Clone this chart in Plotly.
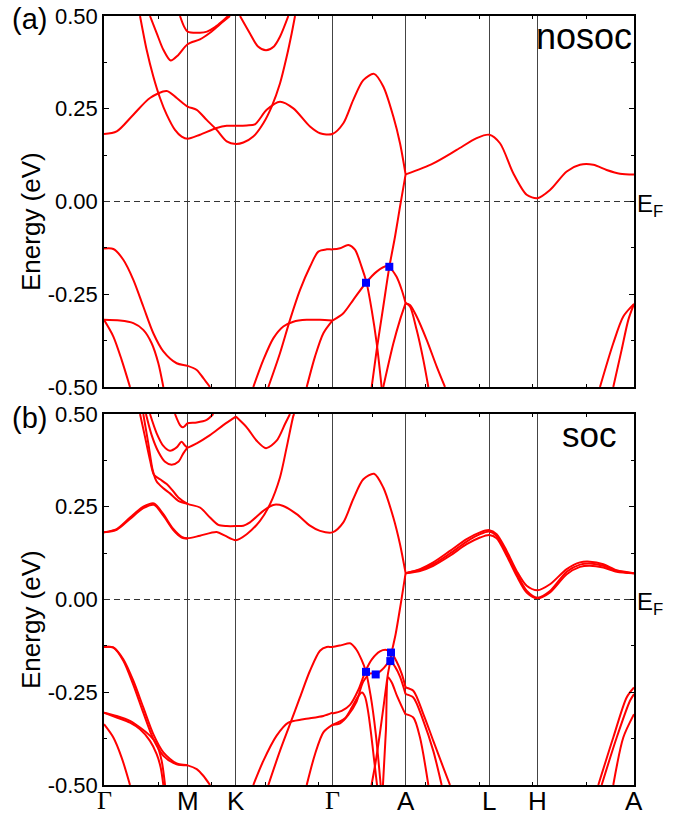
import plotly.graph_objects as go

# ---------------- high-symmetry path ----------------
kpt_pos = [0.0, 1.0, 1.577, 2.732, 3.608, 4.608, 5.185, 6.340]
kpt_lab = ['Γ', 'M', 'K', 'Γ', 'A', 'L', 'H', 'A']
kminor = [0.65, 1.29, 1.93, 2.57, 3.21, 3.85, 4.49, 5.13, 5.77]
e_ticks = [-0.5, -0.25, 0.0, 0.25, 0.5]
e_text = ['-0.50', '-0.25', '0.00', '0.25', '0.50']
e_minor = [-0.375, -0.125, 0.125, 0.375]

# ---------------- (a) nosoc bands: (k, E in eV) ----------------
ns_a = [(0, 0.182), (0.152, 0.189), (0.351, 0.234), (0.550, 0.279), (0.750, 0.298), (0.870, 0.279),
        (1.0, 0.256), (1.109, 0.247), (1.228, 0.220), (1.348, 0.193), (1.468, 0.162), (1.577, 0.155),
        (1.667, 0.159), (1.786, 0.175), (1.906, 0.211), (2.006, 0.256), (2.105, 0.318), (2.185, 0.39),
        (2.245, 0.453), (2.285, 0.5)]
ns_b = [(0.431, 0.5), (0.510, 0.409), (0.590, 0.337), (0.670, 0.279), (0.750, 0.234), (0.849, 0.193),
        (0.929, 0.175), (1.0, 0.169), (1.148, 0.18), (1.348, 0.198), (1.468, 0.204), (1.577, 0.204),
        (1.707, 0.205), (1.806, 0.208), (1.946, 0.247), (2.105, 0.269), (2.265, 0.251), (2.464, 0.202),
        (2.584, 0.184), (2.732, 0.182), (2.863, 0.211), (2.982, 0.274), (3.102, 0.327), (3.230, 0.344),
        (3.341, 0.31), (3.461, 0.229), (3.541, 0.157), (3.608, 0.073)]
ns_c = [(3.608, 0.073), (3.939, 0.103), (4.219, 0.139), (4.458, 0.171), (4.608, 0.18), (4.737, 0.157),
        (4.896, 0.076), (5.056, 0.018), (5.185, 0.009), (5.335, 0.031), (5.535, 0.081), (5.694, 0.099),
        (5.853, 0.099), (6.013, 0.085), (6.172, 0.075), (6.34, 0.073)]
ns_d = [(0, -0.127), (0.112, -0.128), (0.231, -0.157), (0.351, -0.211), (0.470, -0.283), (0.590, -0.355),
        (0.710, -0.404), (0.869, -0.436), (1.0, -0.443), (1.109, -0.454), (1.188, -0.476), (1.268, -0.5)]
ns_e = [(0, -0.319), (0.191, -0.321), (0.351, -0.328), (0.470, -0.346), (0.570, -0.382), (0.650, -0.436),
        (0.710, -0.5)]
ns_f = [(0, -0.319), (0.112, -0.364), (0.211, -0.427), (0.311, -0.5)]
ns_g = [(0.550, 0.5), (0.630, 0.454), (0.710, 0.409), (0.797, 0.380), (0.889, 0.395), (1.0, 0.424),
        (1.148, 0.437), (1.268, 0.455), (1.388, 0.478), (1.507, 0.5)]
ns_h = [(0.909, 0.5), (0.957, 0.472), (1.0, 0.458), (1.148, 0.455), (1.232, 0.458), (1.328, 0.47),
        (1.411, 0.485), (1.483, 0.5)]
ns_i = [(1.627, 0.5), (1.746, 0.453), (1.842, 0.418), (1.938, 0.408), (2.033, 0.418), (2.105, 0.444),
        (2.205, 0.5)]
ns_j = [(1.786, -0.5), (1.906, -0.427), (2.025, -0.369), (2.145, -0.337), (2.265, -0.324), (2.425, -0.319),
        (2.584, -0.319), (2.732, -0.321)]
ns_k = [(1.966, -0.5), (2.105, -0.409), (2.225, -0.319), (2.344, -0.239), (2.464, -0.176), (2.564, -0.135),
        (2.664, -0.129), (2.732, -0.129), (2.823, -0.126), (2.923, -0.117), (3.002, -0.13), (3.082, -0.176),
        (3.142, -0.22), (3.202, -0.292), (3.262, -0.382), (3.321, -0.5)]
ns_l = [(2.425, -0.5), (2.524, -0.418), (2.624, -0.355), (2.732, -0.321)]
ns_m = [(2.732, -0.321), (2.863, -0.301), (2.982, -0.265), (3.134, -0.219), (3.262, -0.189), (3.381, -0.174),
        (3.413, -0.177), (3.5, -0.203), (3.561, -0.238), (3.608, -0.274)]
ns_n = [(3.608, 0.073), (3.541, -0.014), (3.481, -0.095), (3.413, -0.177), (3.341, -0.283), (3.262, -0.4),
        (3.202, -0.5)]
ns_o = [(3.341, -0.5), (3.461, -0.383), (3.541, -0.319), (3.608, -0.274)]
ns_p = [(3.608, -0.274), (3.660, -0.283), (3.740, -0.346), (3.820, -0.427), (3.880, -0.5)]
ns_q = [(3.608, -0.274), (3.660, -0.279), (3.740, -0.31), (3.860, -0.373), (3.980, -0.445), (4.079, -0.5)]
ns_r = [(5.933, -0.5), (6.092, -0.382), (6.212, -0.31), (6.34, -0.276)]
ns_s = [(6.092, -0.5), (6.192, -0.4), (6.272, -0.319), (6.34, -0.276)]
ns_sq_k = [3.134, 3.413]
ns_sq_e = [-0.219, -0.176]

# ---------------- (b) soc bands ----------------
so_a = [(0, 0.181), (0.152, 0.190), (0.311, 0.221), (0.470, 0.25), (0.598, 0.259), (0.710, 0.230),
        (0.829, 0.19), (0.929, 0.169), (1.0, 0.165), (1.148, 0.172), (1.348, 0.182), (1.447, 0.172),
        (1.577, 0.16), (1.707, 0.176), (1.866, 0.212), (1.986, 0.257), (2.105, 0.329), (2.185, 0.41),
        (2.265, 0.495), (2.275, 0.5)]
so_a2 = [(0, 0.181), (0.152, 0.188), (0.311, 0.217), (0.470, 0.246), (0.598, 0.255), (0.710, 0.226),
         (0.829, 0.187), (0.929, 0.167), (1.0, 0.164)]
so_c1 = [(0.431, 0.5), (0.490, 0.439), (0.550, 0.376), (0.598, 0.336), (0.670, 0.324), (0.750, 0.311),
         (0.809, 0.297), (0.889, 0.275), (1.0, 0.258), (1.148, 0.248), (1.268, 0.221), (1.368, 0.201),
         (1.468, 0.198), (1.577, 0.198), (1.667, 0.199), (1.746, 0.208), (1.906, 0.239), (2.025, 0.255),
         (2.145, 0.252), (2.305, 0.23), (2.464, 0.199), (2.584, 0.185), (2.732, 0.181), (2.863, 0.208),
         (2.982, 0.271), (3.102, 0.324), (3.23, 0.339), (3.341, 0.302), (3.461, 0.221), (3.541, 0.149),
         (3.608, 0.071)]
so_c2 = [(0.470, 0.5), (0.530, 0.421), (0.582, 0.349), (0.630, 0.318), (0.710, 0.3), (0.789, 0.286),
         (0.889, 0.266), (1.0, 0.258)]
so_d = [(0.502, 0.5), (0.570, 0.443), (0.650, 0.398), (0.730, 0.371), (0.809, 0.363), (0.889, 0.371),
        (0.949, 0.394), (1.0, 0.41)]
so_e = [(0.550, 0.5), (0.630, 0.448), (0.710, 0.414), (0.789, 0.401), (0.869, 0.41), (0.929, 0.425),
        (0.969, 0.415), (1.0, 0.41), (1.109, 0.421), (1.268, 0.443), (1.427, 0.47), (1.577, 0.493)]
so_f = [(1.577, 0.493), (1.707, 0.464), (1.826, 0.428), (1.938, 0.408), (2.065, 0.428), (2.165, 0.473),
        (2.225, 0.5)]
so_g = [(0.849, 0.5), (0.909, 0.47), (0.941, 0.464), (0.969, 0.468), (1.0, 0.475), (1.109, 0.477),
        (1.228, 0.484), (1.308, 0.5)]
so_h1 = [(0, -0.128), (0.112, -0.129), (0.231, -0.161), (0.351, -0.219), (0.470, -0.291), (0.590, -0.363),
         (0.710, -0.412), (0.869, -0.442), (1.0, -0.447), (1.109, -0.457), (1.188, -0.475), (1.268, -0.5)]
so_h2 = [(0, -0.128), (0.112, -0.130), (0.231, -0.165), (0.351, -0.230), (0.470, -0.305), (0.590, -0.376),
         (0.710, -0.421), (0.869, -0.444), (1.0, -0.447)]
so_i1 = [(0, -0.305), (0.152, -0.314), (0.311, -0.327), (0.431, -0.345), (0.550, -0.367), (0.630, -0.39),
         (0.690, -0.435), (0.730, -0.5)]
so_i2 = [(0, -0.305), (0.152, -0.318), (0.311, -0.332), (0.431, -0.35), (0.550, -0.381), (0.630, -0.417),
         (0.678, -0.453), (0.710, -0.5)]
so_j = [(0, -0.336), (0.112, -0.372), (0.211, -0.426), (0.311, -0.5)]
so_k = [(1.786, -0.5), (1.906, -0.435), (2.065, -0.367), (2.205, -0.332), (2.384, -0.323), (2.624, -0.314),
        (2.732, -0.305)]
so_l = [(1.966, -0.5), (2.105, -0.408), (2.225, -0.336), (2.344, -0.264), (2.464, -0.192), (2.584, -0.138),
        (2.664, -0.128), (2.732, -0.128), (2.843, -0.123), (2.943, -0.118), (3.022, -0.136), (3.082, -0.163),
        (3.130, -0.192), (3.19, -0.26), (3.25, -0.36), (3.31, -0.5)]
so_m = [(2.425, -0.5), (2.524, -0.417), (2.624, -0.358), (2.732, -0.338)]
so_bg2 = [(2.732, -0.338), (2.883, -0.32), (2.967, -0.29), (3.038, -0.262), (3.086, -0.251), (3.122, -0.262),
          (3.158, -0.30), (3.194, -0.36), (3.230, -0.43), (3.266, -0.5)]
so_bg3 = [(2.732, -0.307), (2.843, -0.3), (2.943, -0.284), (3.042, -0.244), (3.130, -0.192), (3.202, -0.162),
          (3.301, -0.140), (3.381, -0.136), (3.433, -0.143), (3.5, -0.167), (3.561, -0.2), (3.608, -0.237)]
so_bg4 = [(2.732, -0.338), (2.823, -0.334), (2.923, -0.311), (3.022, -0.275), (3.10, -0.222), (3.19, -0.199),
          (3.250, -0.202), (3.341, -0.186), (3.425, -0.166), (3.481, -0.181), (3.541, -0.208), (3.608, -0.255)]
so_n = [(3.608, 0.071), (3.549, -0.013), (3.489, -0.093), (3.441, -0.143), (3.425, -0.166), (3.397, -0.2),
        (3.349, -0.28), (3.301, -0.36), (3.248, -0.44), (3.2, -0.5)]
so_o = [(3.337, -0.5), (3.373, -0.35), (3.401, -0.21), (3.445, -0.225), (3.505, -0.26), (3.565, -0.29),
        (3.608, -0.31)]
so_p = [(3.608, -0.237), (3.7, -0.246), (3.820, -0.309), (3.939, -0.381), (4.059, -0.453), (4.139, -0.5)]
so_q = [(3.608, -0.255), (3.7, -0.264), (3.820, -0.327), (3.939, -0.408), (4.039, -0.5)]
so_r = [(3.608, -0.309), (3.7, -0.318), (3.780, -0.372), (3.88, -0.5)]
so_s = [(5.913, -0.5), (6.092, -0.372), (6.252, -0.264), (6.34, -0.237)]
so_t = [(5.953, -0.5), (6.133, -0.372), (6.292, -0.273), (6.34, -0.255)]
so_u = [(6.092, -0.5), (6.212, -0.372), (6.34, -0.309)]
so_v1 = [(3.608, 0.071), (3.780, 0.082), (3.939, 0.1), (4.139, 0.131), (4.338, 0.163), (4.498, 0.181),
         (4.608, 0.187), (4.697, 0.176), (4.817, 0.131), (4.936, 0.077), (5.056, 0.037), (5.185, 0.025),
         (5.335, 0.041), (5.535, 0.082), (5.694, 0.1), (5.813, 0.102), (5.973, 0.095), (6.133, 0.079),
         (6.34, 0.071)]
so_v2 = [(3.608, 0.071), (3.780, 0.077), (3.939, 0.091), (4.139, 0.118), (4.338, 0.149), (4.498, 0.167),
         (4.608, 0.174), (4.697, 0.165), (4.817, 0.118), (4.936, 0.064), (5.056, 0.019), (5.185, 0.003),
         (5.335, 0.019), (5.535, 0.068), (5.694, 0.088), (5.813, 0.091), (5.973, 0.086), (6.133, 0.075),
         (6.34, 0.071)]
so_v3 = [(3.608, 0.071), (3.780, 0.08), (3.939, 0.095), (4.139, 0.124), (4.338, 0.156), (4.498, 0.176),
         (4.608, 0.183), (4.697, 0.171), (4.817, 0.125), (4.936, 0.071), (5.056, 0.024), (5.185, 0.005),
         (5.335, 0.023), (5.535, 0.075), (5.694, 0.094), (5.813, 0.097), (5.973, 0.091), (6.133, 0.077),
         (6.34, 0.071)]
so_sq_k = [3.134, 3.250, 3.433, 3.425]
so_sq_e = [-0.195, -0.202, -0.143, -0.166]

nosoc_bands = [ns_a, ns_b, ns_c, ns_d, ns_e, ns_f, ns_g, ns_h, ns_i, ns_j, ns_k, ns_l, ns_m,
               ns_n, ns_o, ns_p, ns_q, ns_r, ns_s]
soc_bands = [so_a, so_a2, so_c1, so_c2, so_d, so_e, so_f, so_g, so_h1, so_h2, so_i1, so_i2, so_j,
             so_k, so_l, so_m, so_bg2, so_bg3, so_bg4, so_n, so_o, so_p, so_q, so_r, so_s, so_t,
             so_u, so_v1, so_v2, so_v3]

RED = '#ff0000'
FONT = 'Liberation Sans, Arial, sans-serif'
SERIF = 'Liberation Serif, Times New Roman, serif'

fig = go.Figure()


def add_bands(bands, xa, ya):
    for b in bands:
        fig.add_trace(go.Scatter(
            x=[p[0] for p in b], y=[p[1] for p in b], xaxis=xa, yaxis=ya,
            mode='lines', line=dict(color=RED, width=2, shape='spline', smoothing=0.8),
            showlegend=False, hoverinfo='skip'))


add_bands(nosoc_bands, 'x', 'y')
add_bands(soc_bands, 'x2', 'y2')
fig.add_trace(go.Scatter(x=ns_sq_k, y=ns_sq_e, xaxis='x', yaxis='y', mode='markers',
                         marker=dict(symbol='square', size=8, color='#0000ff'), showlegend=False,
                         hoverinfo='skip'))
fig.add_trace(go.Scatter(x=so_sq_k, y=so_sq_e, xaxis='x2', yaxis='y2', mode='markers',
                         marker=dict(symbol='square', size=8, color='#0000ff'), showlegend=False,
                         hoverinfo='skip'))

W, H = 688, 815
PL, PR, PT, PB = 104, 634, 16, 785          # plot area in page pixels
ML, MR, MT, MB = PL, W - PR, PT, H - PB
ph = PB - PT
top_dom = [1 - 371 / ph, 1]
bot_dom = [0, 371 / ph]


def xax(anchor):
    return dict(range=[0, 6.34], domain=[0, 1], anchor=anchor, automargin=False,
                tickmode='array', tickvals=kpt_pos, ticktext=kpt_lab,
                showticklabels=False, ticks='', ticklen=0,
                showgrid=True, gridcolor='#444444', gridwidth=1.4,
                showline=True, linecolor='black', linewidth=1.5, mirror='ticks',
                zeroline=False,
                minor=dict(tickmode='array', tickvals=kminor, ticks='inside', ticklen=3,
                           tickcolor='black', showgrid=False))


def yax(dom, anchor):
    return dict(range=[-0.5, 0.5], domain=dom, anchor=anchor, automargin=False,
                tickmode='array', tickvals=e_ticks, ticktext=e_text,
                ticks='inside', ticklen=5, tickwidth=1.2, tickcolor='black',
                tickfont=dict(family=FONT, size=22, color='black'),
                ticklabeloverflow='allow',
                showgrid=False, zeroline=False,
                showline=True, linecolor='black', linewidth=1.5, mirror='ticks',
                minor=dict(tickmode='array', tickvals=e_minor, ticks='inside', ticklen=3,
                           tickcolor='black', showgrid=False))


fig.update_layout(
    width=W, height=H, margin=dict(l=ML, r=MR, t=MT, b=MB, autoexpand=False),
    paper_bgcolor='white', plot_bgcolor='white',
    xaxis=xax('y'), yaxis=yax(top_dom, 'x'),
    xaxis2=xax('y2'), yaxis2=yax(bot_dom, 'x2'),
    font=dict(family=FONT, color='black'),
)

for xr, yr in [('x domain', 'y'), ('x2 domain', 'y2')]:
    fig.add_shape(type='line', xref=xr, yref=yr, x0=0, x1=1, y0=0, y1=0,
                  line=dict(color='#333333', width=1.2, dash='6px,4px'))


def px_x(px):
    return (px - PL) / (PR - PL)


def px_y(py):
    return (PB - py) / ph


ann = []
ann.append(dict(text='(a)', x=px_x(29), y=px_y(19), font=dict(size=29)))
ann.append(dict(text='(b)', x=px_x(29), y=px_y(418), font=dict(size=29)))
ann.append(dict(text='nosoc', x=1.0, y=px_y(37), xanchor='right', font=dict(size=36)))
ann.append(dict(text='soc', x=px_x(589), y=px_y(434), font=dict(size=35)))
ann.append(dict(text='Energy (eV)', x=px_x(31), y=px_y(222), textangle=-90, font=dict(size=26)))
ann.append(dict(text='Energy (eV)', x=px_x(31), y=px_y(620), textangle=-90, font=dict(size=26)))
ann.append(dict(text='E<sub>F</sub>', x=px_x(635), y=px_y(205), xanchor='left', font=dict(size=24)))
ann.append(dict(text='E<sub>F</sub>', x=px_x(635), y=px_y(603), xanchor='left', font=dict(size=24)))
# high-symmetry labels under the lower panel
for kv, lab in zip(kpt_pos, kpt_lab):
    fam = SERIF if lab == 'Γ' else FONT
    ann.append(dict(text=lab, x=kv / 6.34, y=0, yanchor='top', yshift=1,
                    font=dict(size=26, family=fam)))
for a in ann:
    a.setdefault('xanchor', 'center')
    a.setdefault('yanchor', 'middle')
    a.update(xref='paper', yref='paper', showarrow=False)
    f = dict(family=FONT, color='black')
    f.update(a['font'])
    a['font'] = f
fig.update_layout(annotations=ann)

fig.write_html('out.html', config={'displayModeBar': False},
               post_script="document.body.style.margin='0';")
